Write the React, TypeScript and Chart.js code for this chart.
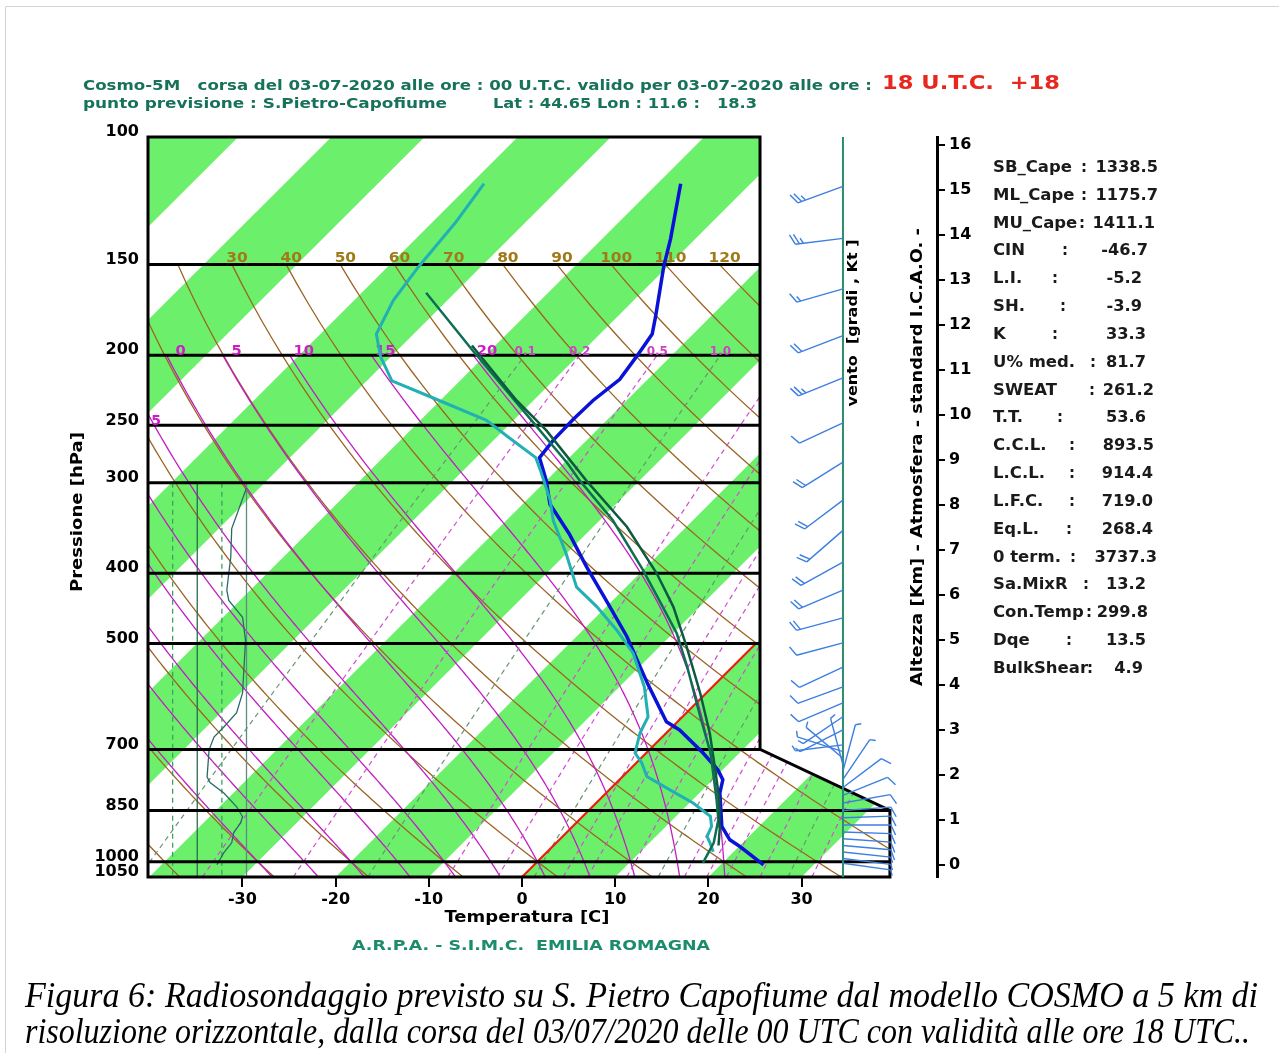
import React, { useEffect, useRef } from "react";
import { Chart, registerables } from "chart.js";
Chart.register(...registerables);

// ---------------- data ----------------
const PRESSURE_TICKS = [100, 150, 200, 250, 300, 400, 500, 700, 850, 1000, 1050];
const PRESSURE_LINES = [150, 200, 250, 300, 400, 500, 700, 850, 1000];
const TEMP_TICKS = [-30, -20, -10, 0, 10, 20, 30];
const ALT_TICKS = [0, 1, 2, 3, 4, 5, 6, 7, 8, 9, 10, 11, 12, 13, 14, 15, 16];

// temperature profile (blue)
const TEMP_P = [1010, 953, 933, 894, 804, 771, 747, 708, 658, 641, 567, 489, 436, 392, 353, 321, 298, 277, 262, 245, 231, 216, 200, 187, 177, 151, 138, 116];
const TEMP_T = [24.6, 20.1, 18.3, 16.0, 12.2, 11.1, 9.5, 6.1, 1.1, -1.2, -7.4, -14.6, -20.7, -26.4, -31.8, -37.1, -40.0, -43.2, -43.6, -43.7, -43.6, -43.0, -43.7, -44.4, -45.9, -50.4, -52.7, -57.5];

// dew point profile (cyan)
const DEW_P = [969, 942, 923, 894, 866, 830, 796, 763, 731, 708, 665, 631, 574, 516, 479, 445, 418, 376, 338, 317, 288, 277, 260, 246, 229, 217, 201, 187, 168, 151, 131, 116];
const DEW_T = [17.8, 16.5, 15.5, 14.9, 13.7, 10.4, 6.5, 2.6, 0.6, -1.2, -2.8, -3.7, -7.3, -12.1, -16.4, -21.0, -25.3, -30.0, -35.0, -37.5, -41.8, -43.6, -48.6, -52.9, -61.1, -67.3, -71.1, -74.0, -75.8, -76.7, -77.5, -78.6];

// parcel curves (dark green)
const PARCEL1_P = [1004, 942, 875, 822, 708, 631, 538, 484, 436, 396, 338, 298, 282, 242, 198, 164];
const PARCEL1_T = [17.9, 16.9, 14.9, 12.6, 6.9, 1.9, -4.9, -9.6, -15.0, -20.0, -28.6, -36.4, -39.6, -49.1, -61.6, -73.1];
const PARCEL2_P = [950, 894, 822, 739, 665, 586, 505, 445, 400, 345, 298, 254, 231, 194];
const PARCEL2_T = [17.7, 15.8, 12.9, 8.8, 4.7, -0.6, -7.1, -12.8, -18.2, -26.4, -35.7, -45.4, -51.8, -62.5];

// relative humidity profile (%), small panel on the left
const RH_P = [305, 347, 380, 422, 436, 460, 495, 585, 623, 652, 673, 701, 764, 778, 804, 840, 867, 884, 912, 942, 972, 1010];
const RH_V = [100, 85, 84, 80, 82, 96, 99, 96, 90, 77, 67, 62, 60, 63, 77, 90, 96, 94, 87, 85, 77, 70];
const RH_REF = [25, 50, 75, 100];

// winds
const WIND_P = [117, 138, 162, 188, 215, 248, 281, 317, 349, 386, 422, 461, 499, 539, 574, 604, 631, 658, 690, 705, 720, 735, 750, 770, 790, 810, 830, 850, 870, 890, 910, 930, 950, 970, 990, 1005];
const WIND_DIR = [250, 263, 254, 249, 248, 245, 238, 233, 229, 241, 247, 255, 255, 245, 250, 247, 236, 243, 263, 288, 310, 345, 15, 34, 53, 68, 80, 86, 88, 90, 92, 94, 95, 96, 97, 98];
const WIND_SPD = [25, 25, 15, 20, 25, 10, 20, 20, 20, 20, 20, 20, 10, 10, 10, 10, 5, 5, 5, 5, 5, 5, 5, 5, 10, 10, 10, 10, 10, 10, 10, 10, 10, 5, 5, 5];

// background line families
const DRY_THETA = [-40, -30, -20, -10, 0, 10, 20, 30, 40, 50, 60, 70, 80, 90, 100, 110, 120, 130, 140, 150, 160, 170, 180];
const DRY_LABELS = [30, 40, 50, 60, 70, 80, 90, 100, 110, 120];
const MOIST_THW = [-30, -25, -20, -15, -10, -5, 0, 5, 10, 15, 20];
const MOIST_LABELS = [0, 5, 10, 15, 20];
const MIX_W = [0.1, 0.2, 0.5, 1, 2, 3, 4, 5, 6, 8, 10, 12, 14, 16, 20, 24, 28];
const MIX_GRAY = [0.1, 1, 4, 10, 24];
const MIX_LABELS = [0.1, 0.2, 0.5, 1];

// indices panel
const STAT_LABELS = ["SB_Cape", "ML_Cape", "MU_Cape", "CIN", "L.I.", "SH.", "K", "U% med.", "SWEAT", "T.T.", "C.C.L.", "L.C.L.", "L.F.C.", "Eq.L.", "0 term.", "Sa.MixR", "Con.Temp", "Dqe", "BulkShear"];
const STAT_VALUES = ["1338.5", "1175.7", "1411.1", "-46.7", "-5.2", "-3.9", "33.3", "81.7", "261.2", "53.6", "893.5", "914.4", "719.0", "268.4", "3737.3", "13.2", "299.8", "13.5", "4.9"];

const TITLE_1 = "Cosmo-5M   corsa del 03-07-2020 alle ore : 00 U.T.C. valido per 03-07-2020 alle ore :";
const TITLE_RED = "18 U.T.C.  +18";
const TITLE_2A = "punto previsione : S.Pietro-Capofiume";
const TITLE_2B = "Lat : 44.65 Lon : 11.6 :   18.3";
const CAPTION_1 = "Figura 6: Radiosondaggio previsto su S. Pietro Capofiume dal modello COSMO a 5 km di";
const CAPTION_2 = "risoluzione orizzontale, dalla corsa del 03/07/2020 delle 00 UTC con validità alle ore 18 UTC..";

// ---------------- layout constants ----------------
const SKEW = 33.83;
const P_BASE = 1050;
const P_TOP = 100;
const X_MIN = -40.13;
const X_MAX = 44.53;
const BOX_X_UPPER = 25.54;
const BOX_X_LOWER = 39.48;
const KNEE_P1 = 700;
const KNEE_P2 = 850;
const STAFF_X = 34.44;
const RH_SCALE = 0.10569;
const ALT_MIN = -0.267;
const ALT_MAX = 16.178;
const STAT_COLON_X = [1084, 1084, 1082, 1065, 1055, 1063, 1055, 1093, 1092, 1060, 1072, 1072, 1072, 1069, 1073, 1086, 1089, 1069, 1090];
const STAT_VALUE_RIGHT = [1158, 1158, 1155, 1148, 1142, 1142, 1146, 1146, 1154, 1146, 1154, 1153, 1153, 1153, 1157, 1146, 1148, 1146, 1143];

const skewX = (T: number, p: number) => T + SKEW * Math.log(P_BASE / p);
const rhX = (v: number) => X_MIN + v * RH_SCALE;

function moistLapse(T: number, p: number) {
  const Tc = T - 273.15;
  const es = 6.112 * Math.exp((17.67 * Tc) / (Tc + 243.5));
  const rs = (0.622 * es) / (p - es);
  const Rd = 287.04, Cp = 1005.7, Lv = 2.501e6, eps = 0.622;
  const num = Rd * T + Lv * rs;
  const den = Cp + (Lv * Lv * rs * eps) / (Rd * T * T);
  return num / (den * p);
}

function moistCurve(thw: number): [number, number][] {
  const up: [number, number][] = [];
  let T = thw + 273.15, p = 1000;
  up.push([p, T]);
  while (p > 200) {
    const dp = -5;
    const k1 = moistLapse(T, p);
    const k2 = moistLapse(T + (k1 * dp) / 2, p + dp / 2);
    T += k2 * dp; p += dp;
    up.push([p, T]);
  }
  const down: [number, number][] = [];
  T = thw + 273.15; p = 1000;
  while (p < 1050) {
    const dp = 5;
    const k1 = moistLapse(T, p);
    const k2 = moistLapse(T + (k1 * dp) / 2, p + dp / 2);
    T += k2 * dp; p += dp;
    down.push([p, T]);
  }
  return [...down.reverse(), ...up].map(([pp, TT]) => [skewX(TT - 273.15, pp), pp] as [number, number]);
}

function dryCurve(theta: number): [number, number][] {
  const pts: [number, number][] = [];
  for (let p = 150; p <= 1050; p += 10) {
    const T = (theta + 273.15) * Math.pow(p / 1000, 0.286) - 273.15;
    pts.push([skewX(T, p), p]);
  }
  return pts;
}

function mixCurve(w: number): [number, number][] {
  const pts: [number, number][] = [];
  for (let p = 1050; p >= 200; p -= 25) {
    const e = (w * p) / (622 + w);
    const l = Math.log(e / 6.112);
    const Td = (243.5 * l) / (17.67 - l);
    pts.push([skewX(Td, p), p]);
  }
  return pts;
}

function txt(ctx: CanvasRenderingContext2D, s: string, x: number, y: number, o: any) {
  ctx.save();
  ctx.font = o.font;
  ctx.fillStyle = o.color || "#000";
  ctx.textBaseline = "middle";
  ctx.textAlign = o.align || "left";
  ctx.translate(x, y);
  if (o.rot) ctx.rotate(o.rot);
  let sx = o.sx || 1;
  if (o.width) sx = o.width / ctx.measureText(s).width;
  ctx.scale(sx, 1);
  ctx.fillText(s, 0, 0);
  ctx.restore();
}

const skewPlugin = {
  id: "skewtBackground",
  beforeDatasetsDraw(chart: any) {
    const { ctx } = chart;
    const xs = chart.scales.x, ys = chart.scales.y;
    const px = (X: number) => xs.getPixelForValue(X);
    const py = (p: number) => ys.getPixelForValue(p);
    const poly = (pts: [number, number][], color: string, w: number, dash: number[] = []) => {
      ctx.beginPath();
      pts.forEach(([X, p], i) => (i ? ctx.lineTo(px(X), py(p)) : ctx.moveTo(px(X), py(p))));
      ctx.strokeStyle = color; ctx.lineWidth = w; ctx.setLineDash(dash); ctx.stroke(); ctx.setLineDash([]);
    };
    const box: [number, number][] = [[X_MIN, P_TOP], [BOX_X_UPPER, P_TOP], [BOX_X_UPPER, KNEE_P1], [BOX_X_LOWER, KNEE_P2], [BOX_X_LOWER, P_BASE], [X_MIN, P_BASE]];
    const boxPath = () => {
      ctx.beginPath();
      box.forEach(([X, p], i) => (i ? ctx.lineTo(px(X), py(p)) : ctx.moveTo(px(X), py(p))));
      ctx.closePath();
    };
    ctx.save();
    boxPath();
    ctx.fillStyle = "#ffffff"; ctx.fill();
    ctx.clip();
    // isotherm stripes
    for (let T1 = -140; T1 < 60; T1 += 10) {
      if ((((T1 / 10) % 2) + 2) % 2 !== 0) continue;
      const q: [number, number][] = [[skewX(T1, P_TOP), P_TOP], [skewX(T1 + 10, P_TOP), P_TOP], [skewX(T1 + 10, P_BASE), P_BASE], [skewX(T1, P_BASE), P_BASE]];
      ctx.beginPath();
      q.forEach(([X, p], i) => (i ? ctx.lineTo(px(X), py(p)) : ctx.moveTo(px(X), py(p))));
      ctx.closePath();
      ctx.fillStyle = "#6cf06c"; ctx.fill();
    }
    DRY_THETA.forEach((th) => poly(dryCurve(th), "#9c6424", 1.3));
    MOIST_THW.forEach((tw) => poly(moistCurve(tw), "#c41cc4", 1.3));
    MIX_W.forEach((w) => poly(mixCurve(w), MIX_GRAY.includes(w) ? "#6a9470" : "#d24cd2", 1.2, [5, 4]));
    // 0 degree isotherm
    poly([[skewX(0, P_BASE), P_BASE], [skewX(0, 500), 500]], "#e8200e", 2.2);
    // humidity panel reference lines
    RH_REF.forEach((v, i) => {
      const col = i % 2 === 0 ? "#3aa060" : (v === 100 ? "#5f8a86" : "#2a6a50");
      poly([[rhX(v), 300], [rhX(v), P_BASE]], col, 1.3, i % 2 === 0 ? [5, 4] : []);
    });
    poly(RH_P.map((p, i) => [rhX(RH_V[i]), p] as [number, number]), "#2a6a66", 1.3);
    // pressure lines
    PRESSURE_LINES.forEach((p) => poly([[X_MIN, p], [BOX_X_LOWER + 1, p]], "#000", 3));
    ctx.restore();

    // labels on line families
    ctx.save();
    boxPath(); ctx.clip();
    DRY_LABELS.forEach((th) => {
      const T = (th + 273.15) * Math.pow(150 / 1000, 0.286) - 273.15;
      txt(ctx, String(th), px(skewX(T, 150)) + 5, py(150) - 6, { font: "bold 14px 'DejaVu Sans'", color: "#a07a18", align: "center", sx: 1.1 });
    });
    MOIST_LABELS.forEach((tw) => {
      const c = moistCurve(tw);
      const last = c[c.length - 1];
      txt(ctx, String(tw), px(last[0]) + 14, py(200) - 4, { font: "bold 14px 'DejaVu Sans'", color: "#d01cc8", align: "center", sx: 1.05 });
    });
    MIX_LABELS.forEach((w) => {
      const c = mixCurve(w);
      const last = c[c.length - 1];
      txt(ctx, w === 1 ? "1.0" : String(w), px(last[0]), py(200) - 3, { font: "bold 12px 'DejaVu Sans'", color: "#d040c8", align: "center" });
    });
    txt(ctx, "5", px(X_MIN) + 8, py(250) - 4, { font: "bold 14px 'DejaVu Sans'", color: "#d01cc8", align: "center" });
    ctx.restore();

    // box border
    ctx.save();
    boxPath();
    ctx.strokeStyle = "#000"; ctx.lineWidth = 3; ctx.stroke();
    ctx.restore();
  },
  afterDraw(chart: any) {
    const { ctx } = chart;
    const xs = chart.scales.x, ys = chart.scales.y;
    const px = (X: number) => xs.getPixelForValue(X);
    const py = (p: number) => ys.getPixelForValue(p);
    // wind staff
    const sx0 = px(STAFF_X);
    ctx.save();
    ctx.beginPath(); ctx.moveTo(sx0, py(P_TOP)); ctx.lineTo(sx0, py(P_BASE));
    ctx.strokeStyle = "#2a8c70"; ctx.lineWidth = 2; ctx.stroke();
    // barbs
    ctx.strokeStyle = "#3c7fe0"; ctx.lineWidth = 1.4;
    WIND_P.forEach((p, i) => {
      const d = (WIND_DIR[i] * Math.PI) / 180;
      const ux = Math.sin(d), uy = -Math.cos(d);
      const y0 = py(p), L = 48;
      const tx = sx0 + ux * L, ty = y0 + uy * L;
      ctx.beginPath(); ctx.moveTo(sx0, y0); ctx.lineTo(tx, ty); ctx.stroke();
      const a = (65 * Math.PI) / 180;
      const fx = ux * Math.cos(a) - uy * Math.sin(a), fy = ux * Math.sin(a) + uy * Math.cos(a);
      let s = WIND_SPD[i], k = 0;
      while (s >= 10) {
        const bx = tx - ux * k * 4, by = ty - uy * k * 4;
        ctx.beginPath(); ctx.moveTo(bx, by); ctx.lineTo(bx + fx * 11, by + fy * 11); ctx.stroke();
        s -= 10; k++;
      }
      if (s >= 5) {
        const bx = tx - ux * k * 4, by = ty - uy * k * 4;
        ctx.beginPath(); ctx.moveTo(bx, by); ctx.lineTo(bx + fx * 6, by + fy * 6); ctx.stroke();
      }
    });
    ctx.restore();

    const B = "'DejaVu Sans'";
    // titles
    txt(ctx, TITLE_1, 83, 86, { font: `bold 14px ${B}`, color: "#17725a", width: 789 });
    txt(ctx, TITLE_RED, 882, 84, { font: `bold 20px ${B}`, color: "#e8281e", width: 178 });
    txt(ctx, TITLE_2A, 83, 104, { font: `bold 14px ${B}`, color: "#17725a", width: 364 });
    txt(ctx, TITLE_2B, 493, 104, { font: `bold 14px ${B}`, color: "#17725a", width: 264 });
    // axis titles
    txt(ctx, "Pressione [hPa]", 78, 512, { font: `bold 15px ${B}`, align: "center", rot: -Math.PI / 2, width: 160 });
    txt(ctx, "Temperatura [C]", 527, 918, { font: `bold 15px ${B}`, align: "center", width: 165 });
    txt(ctx, "A.R.P.A. - S.I.M.C.  EMILIA ROMAGNA", 531, 946, { font: `bold 14px ${B}`, color: "#1c8c6c", align: "center", width: 358 });
    txt(ctx, "Altezza [Km] - Atmosfera - standard I.C.A.O. -", 918, 457, { font: `bold 15px ${B}`, align: "center", rot: -Math.PI / 2, width: 458 });
    txt(ctx, "vento  [gradi , Kt ]", 853, 323, { font: `bold 14px ${B}`, align: "center", rot: -Math.PI / 2, width: 167 });
    // indices
    STAT_LABELS.forEach((lab, i) => {
      const y = 168 + i * 27.83;
      txt(ctx, lab, 993, y, { font: `bold 15px ${B}`, color: "#1a1a1a", sx: 1.1 });
      txt(ctx, ":", STAT_COLON_X[i], y, { font: `bold 15px ${B}`, color: "#1a1a1a", align: "center" });
      txt(ctx, STAT_VALUES[i], STAT_VALUE_RIGHT[i], y, { font: `bold 15px ${B}`, color: "#1a1a1a", align: "right", sx: 1.08 });
    });
    // caption
    txt(ctx, CAPTION_1, 25, 998, { font: "italic 35px 'Liberation Serif'", width: 1233 });
    txt(ctx, CAPTION_2, 25, 1034, { font: "italic 35px 'Liberation Serif'", width: 1225 });
    // page frame
    ctx.save();
    ctx.strokeStyle = "#d4d4d4"; ctx.lineWidth = 1;
    ctx.beginPath(); ctx.moveTo(5.5, 1053); ctx.lineTo(5.5, 6.5); ctx.lineTo(1279, 6.5); ctx.stroke();
    ctx.restore();
  },
};

const tickFont = { family: "DejaVu Sans", weight: "bold" as const, size: 16 };

export default function App() {
  const ref = useRef<HTMLCanvasElement | null>(null);
  useEffect(() => {
    if (!ref.current) return;
    const mk = (P: number[], T: number[]) => P.map((p, i) => ({ x: skewX(T[i], p), y: p }));
    const chart = new Chart(ref.current, {
      type: "scatter",
      data: {
        datasets: [
          { label: "parcel2", data: mk(PARCEL2_P, PARCEL2_T), showLine: true, pointRadius: 0, borderColor: "#0c5a40", borderWidth: 2.5 },
          { label: "parcel1", data: mk(PARCEL1_P, PARCEL1_T), showLine: true, pointRadius: 0, borderColor: "#0d6e52", borderWidth: 2.5 },
          { label: "dew", data: mk(DEW_P, DEW_T), showLine: true, pointRadius: 0, borderColor: "#22b0b4", borderWidth: 3 },
          { label: "temp", data: mk(TEMP_P, TEMP_T), showLine: true, pointRadius: 0, borderColor: "#0a12d8", borderWidth: 3.5 },
        ],
      },
      options: {
        responsive: false,
        maintainAspectRatio: false,
        animation: false,
        events: [],
        layout: { padding: { left: 0, right: 0, top: 137, bottom: 136 } },
        plugins: { legend: { display: false }, tooltip: { enabled: false }, title: { display: false } },
        scales: {
          x: {
            type: "linear", position: "bottom", min: X_MIN, max: X_MAX,
            afterBuildTicks: (s: any) => { s.ticks = TEMP_TICKS.map((v) => ({ value: v })); },
            afterFit: (s: any) => { s.height = 40; },
            grid: { display: true, drawOnChartArea: false, drawTicks: true, tickLength: 10, color: "#000", lineWidth: 2 },
            border: { display: false },
            ticks: { font: tickFont, color: "#000", padding: 3, autoSkip: false, maxRotation: 0, callback: (v: any) => String(v) },
          },
          y: {
            type: "logarithmic", position: "left", reverse: true, min: P_TOP, max: P_BASE,
            afterBuildTicks: (s: any) => { s.ticks = PRESSURE_TICKS.map((v) => ({ value: v })); },
            afterFit: (s: any) => { s.width = 148; },
            grid: { display: false, drawTicks: false, tickLength: 0 },
            border: { display: false },
            ticks: { font: tickFont, color: "#000", padding: 9, autoSkip: false, labelOffset: -5, callback: (v: any) => String(v) },
          },
          yAlt: {
            type: "linear", position: "right", min: ALT_MIN, max: ALT_MAX,
            afterBuildTicks: (s: any) => { s.ticks = ALT_TICKS.map((v) => ({ value: v })); },
            afterFit: (s: any) => { s.width = 1279 - 937; },
            grid: { display: true, drawOnChartArea: false, drawTicks: true, tickLength: 8, color: "#000", lineWidth: 2 },
            border: { display: true, color: "#000", width: 3 },
            ticks: { font: tickFont, color: "#000", padding: 4, autoSkip: false, callback: (v: any) => String(v) },
          },
        },
      },
      plugins: [skewPlugin],
    } as any);
    return () => chart.destroy();
  }, []);
  return (
    <div style={{ position: "absolute", left: 0, top: 0, width: 1279, height: 1053, background: "#fff" }}>
      <canvas ref={ref} width={1279} height={1053} style={{ width: 1279, height: 1053, display: "block" }} />
    </div>
  );
}
